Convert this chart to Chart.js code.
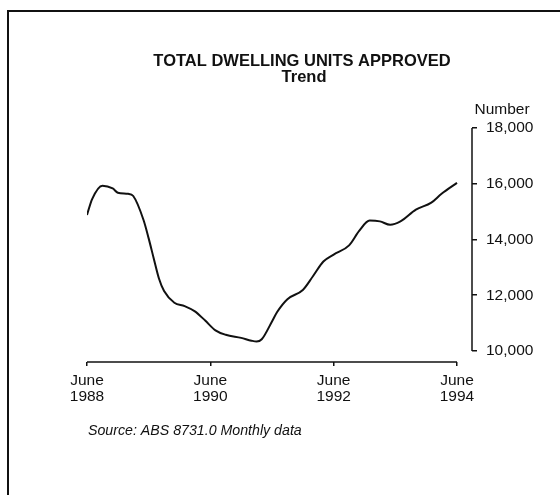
<!DOCTYPE html>
<html>
<head>
<meta charset="utf-8">
<script src="https://cdn.jsdelivr.net/npm/chart.js@4/dist/chart.umd.min.js"></script>
<style>
  html, body { margin: 0; padding: 0; background: #fff; }
  #wrap { position: relative; width: 560px; height: 495px; overflow: hidden; }
  #frame { position: absolute; left: 7px; top: 10px; width: 600px; height: 600px;
           border-top: 2px solid #111; border-left: 2px solid #111; }
  canvas { position: absolute; left: 0; top: 0; }
</style>
</head>
<body>
<div id="wrap">
  <div id="frame"></div>
  <canvas id="c" width="560" height="495"></canvas>
</div>
<script>
// Months since June 1988
const months = [0, 1, 3, 5, 6, 8, 9, 11, 12, 13, 14, 15, 17, 19, 21, 23, 25, 27, 30, 32, 33, 34, 36, 37, 39, 42, 44, 46, 48, 51, 53, 55, 57, 59, 61, 64, 67, 69, 72];
// Total dwelling units approved, trend
const dwellingUnits = [14880, 15450, 15930, 15830, 15680, 15640, 15560, 14700, 14040, 13310, 12600, 12150, 11730, 11610, 11420, 11090, 10740, 10580, 10470, 10370, 10340, 10420, 11060, 11400, 11860, 12190, 12690, 13210, 13460, 13790, 14320, 14680, 14650, 14530, 14650, 15070, 15320, 15640, 16030];
const xTickMonths = [0, 24, 48, 72];
const xTickLabels = [["June", "1988"], ["June", "1990"], ["June", "1992"], ["June", "1994"]];
const yTickValues = [10000, 12000, 14000, 16000, 18000];
const titleLines = ["TOTAL DWELLING UNITS APPROVED", "Trend"];
const yUnitLabel = "Number";
const sourceNote = "Source: ABS 8731.0 Monthly data";

const FONT = "'Liberation Sans', Arial, Helvetica, sans-serif";
const INK = '#111';

const decorPlugin = {
  id: 'decor',
  afterDraw(chart) {
    const ctx = chart.ctx;
    const xs = chart.scales.x, ys = chart.scales.y;
    const area = chart.chartArea;
    ctx.save();
    ctx.strokeStyle = INK;
    ctx.lineWidth = 1.5;
    // y axis line (from top tick to bottom tick)
    ctx.beginPath();
    ctx.moveTo(area.right, ys.getPixelForValue(yTickValues[yTickValues.length - 1]));
    ctx.lineTo(area.right, ys.getPixelForValue(yTickValues[0]));
    ctx.stroke();
    // x axis line (first to last tick)
    ctx.beginPath();
    ctx.moveTo(xs.getPixelForValue(xTickMonths[0]), area.bottom);
    ctx.lineTo(xs.getPixelForValue(xTickMonths[xTickMonths.length - 1]), area.bottom);
    ctx.stroke();
    // texts
    ctx.fillStyle = INK;
    ctx.textAlign = 'center';
    ctx.textBaseline = 'middle';
    ctx.font = 'bold 16.5px ' + FONT;
    ctx.fillText(titleLines[0], 302, 61);
    ctx.fillText(titleLines[1], 304, 77);
    ctx.font = '15.5px ' + FONT;
    ctx.fillText(yUnitLabel, 502, 110);
    ctx.textAlign = 'left';
    ctx.font = 'italic 14.2px ' + FONT;
    ctx.fillText(sourceNote, 88, 431);
    ctx.restore();
  }
};

new Chart(document.getElementById('c'), {
  type: 'line',
  data: {
    datasets: [{
      data: months.map((m, i) => ({ x: m, y: dwellingUnits[i] })),
      borderColor: INK,
      borderWidth: 2,
      pointRadius: 0,
      fill: false,
      cubicInterpolationMode: 'monotone'
    }]
  },
  options: {
    responsive: false,
    animation: false,
    devicePixelRatio: 1,
    layout: { padding: { left: 87, top: 128, right: 0, bottom: 0 } },
    plugins: { legend: { display: false }, title: { display: false }, tooltip: { enabled: false } },
    scales: {
      x: {
        type: 'linear',
        position: 'bottom',
        min: 0,
        max: 74.92,
        afterBuildTicks: s => { s.ticks = xTickMonths.map(v => ({ value: v })); },
        afterFit: s => { s.height = 133; },
        border: { display: false },
        grid: { display: true, drawOnChartArea: false, drawTicks: true, tickLength: 4, color: INK, lineWidth: 1.5 },
        ticks: {
          autoSkip: false,
          maxRotation: 0,
          padding: 7,
          color: INK,
          font: { family: FONT, size: 15.5, lineHeight: 16 / 15.5 },
          callback: (v) => { const i = xTickMonths.indexOf(v); return i >= 0 ? xTickLabels[i] : ''; }
        }
      },
      y: {
        type: 'linear',
        position: 'right',
        min: 9605,
        max: 18000,
        afterBuildTicks: s => { s.ticks = yTickValues.map(v => ({ value: v })); },
        afterFit: s => { s.width = 88; },
        border: { display: false },
        grid: { display: true, drawOnChartArea: false, drawTicks: true, tickLength: 5, color: INK, lineWidth: 1.5 },
        ticks: {
          padding: 9,
          color: INK,
          font: { family: FONT, size: 15.5 },
          callback: v => v.toLocaleString('en-US')
        }
      }
    }
  },
  plugins: [decorPlugin]
});
</script>
</body>
</html>
